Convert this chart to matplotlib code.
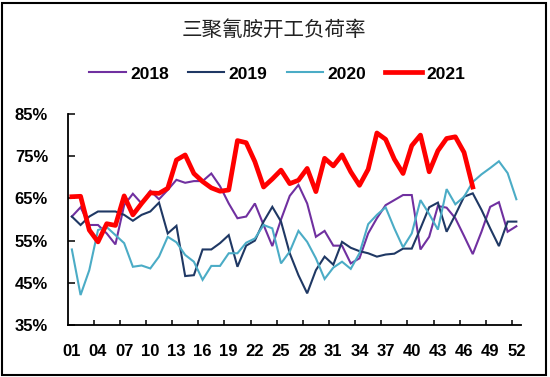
import matplotlib
matplotlib.use("Agg")
import matplotlib.pyplot as plt
from matplotlib.patches import Rectangle
import numpy as np

weeks = list(range(1, 53))
week_labels = [f"{w:02d}" for w in range(1, 53, 3)]

y2018 = [60.7, 62.9, 58.7, 58.7, 56.7, 54.1, 63.4, 66.1, 63.8, 66.8,
         64.8, 67.0, 69.4, 68.7, 69.1, 69.1, 70.9, 67.9, 63.8, 60.3,
         60.7, 63.8, 58.7, 53.7, 60.0, 65.6, 68.2, 63.8, 55.9, 57.3,
         53.8, 53.8, 49.6, 50.8, 56.7, 60.3, 63.4, 64.6, 65.8, 65.8,
         52.9, 55.9, 63.2, 62.8, 60.3, 56.1, 51.8, 57.1, 63.0, 64.1,
         57.1, 58.4]
y2019 = [60.7, 58.7, 60.7, 61.9, 61.9, 61.9, 61.1, 59.7, 61.1, 61.9,
         64.0, 56.7, 58.5, 46.6, 46.8, 52.9, 52.9, 54.4, 56.3, 48.8,
         53.8, 55.0, 59.5, 63.0, 59.5, 52.0, 46.8, 42.5, 48.0, 51.2,
         49.3, 54.7, 53.3, 52.5, 52.0, 51.2, 51.7, 51.9, 53.1, 53.1,
         57.9, 62.9, 64.0, 57.1, 61.1, 65.4, 66.2, 62.3, 57.9, 53.7,
         59.5, 59.5]
y2020 = [52.9, 42.1, 48.0, 57.5, 58.2, 56.3, 54.4, 48.8, 49.1, 48.4,
         51.2, 55.9, 54.6, 51.6, 50.0, 45.7, 49.0, 49.0, 52.0, 52.0,
         54.5, 55.5, 58.7, 57.9, 49.6, 52.4, 57.3, 54.7, 50.8, 45.9,
         48.6, 50.0, 48.3, 52.0, 58.9, 61.1, 62.9, 57.9, 53.4, 56.7,
         64.6, 61.3, 57.6, 67.2, 63.6, 65.4, 68.9, 70.7, 72.2, 73.8,
         71.0, 64.8]
y2021 = [65.4, 65.5, 57.5, 54.7, 59.0, 58.6, 65.6, 61.1, 63.8, 66.3,
         66.2, 67.4, 74.1, 75.3, 70.9, 69.0, 67.5, 66.7, 67.0, 78.7,
         78.2, 73.7, 67.7, 69.6, 71.7, 68.5, 69.3, 72.1, 66.6, 74.5,
         72.7, 75.3, 71.3, 68.1, 71.9, 80.5, 79.0, 74.3, 70.9, 77.5,
         80.0, 71.3, 76.3, 79.2, 79.6, 75.9, 67.7]

series_names = ["2018", "2019", "2020", "2021"]
colors = ["#7030A0", "#1F3864", "#4BACC6", "#FF0000"]
widths = [1.5, 1.5, 1.5, 3.4]
yticks = [35, 45, 55, 65, 75, 85]
title = "三聚氰胺开工负荷率"

plt.rcParams['font.family'] = ['Liberation Sans', 'DejaVu Sans']

fig = plt.figure(figsize=(5.5, 3.77), dpi=100)
ax = fig.add_axes([67.5/550, 1-325/377, (520.7-67.5)/550, (325-114)/377])

for name, data, c, lw in zip(series_names, [y2018, y2019, y2020, y2021], colors, widths):
    ax.plot(weeks[:len(data)], data, color=c, lw=lw, label=name,
            solid_joinstyle='miter' if lw < 2 else 'round')

ax.set_xlim(0.5, 52.5)
ax.set_ylim(35, 85)
ax.set_yticks(yticks)
ax.set_yticklabels([f"{v}%" for v in yticks], fontsize=12, fontweight='bold')
ax.set_xticks(list(range(1, 53, 3)))
ax.set_xticklabels(week_labels, fontsize=12, fontweight='bold')
ax.set_xticks(np.arange(3.5, 52, 3), minor=True)
ax.tick_params(axis='x', which='major', length=0, pad=14)
ax.tick_params(axis='x', which='minor', direction='in', length=3.6, width=1.1)
ax.tick_params(axis='y', direction='in', length=4.8, width=1.1, pad=14)
for s in ['top', 'right']:
    ax.spines[s].set_visible(False)
for s in ['left', 'bottom']:
    ax.spines[s].set_linewidth(1.3)
    ax.spines[s].set_color('black')

fig.text(0.498, 1-30/377, title, ha='center', va='center', fontsize=14.8,
         family=['Noto Sans CJK SC', 'DejaVu Sans'], color='#222222')

leg = fig.legend(loc='center', bbox_to_anchor=(0.504, 1-74/377), ncol=4, frameon=False,
                 prop={'size': 12.5, 'weight': 'bold'}, handlelength=2.1,
                 handletextpad=0.25, columnspacing=1.1)

fig.patches.append(Rectangle((2/550, 2/377), 544/550, 372/377, transform=fig.transFigure,
                             fill=False, edgecolor='black', lw=1.5))

fig.savefig("out.png", dpi=100)
